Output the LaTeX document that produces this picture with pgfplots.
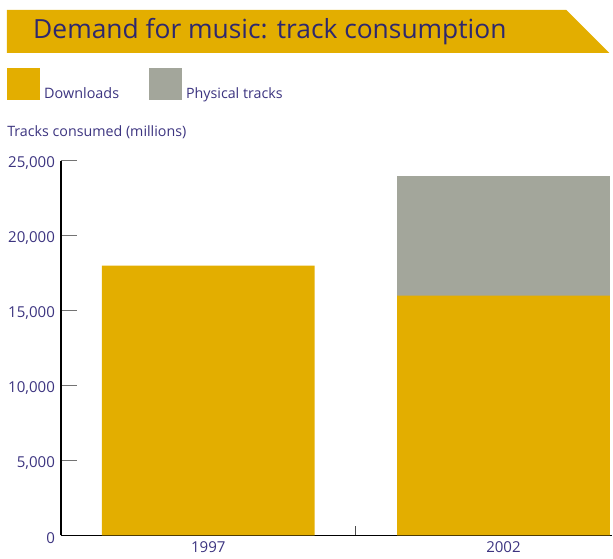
\documentclass[border=0pt]{standalone}
\usepackage{pgfplots}
\pgfplotsset{compat=1.18}
\usepackage{fontspec}
\setmainfont{Open Sans}
\definecolor{gold}{RGB}{227,174,0}
\definecolor{stone}{RGB}{163,166,155}
\definecolor{navy}{RGB}{46,40,110}
\definecolor{lab}{RGB}{60,52,128}
\begin{document}
\begin{tikzpicture}
\begin{scope}[x=0.75pt,y=-0.75pt,yshift=419.25pt]
\path[use as bounding box] (0,0) rectangle (613,559);
% title banner
\fill[gold] (7,10) -- (567,10) -- (610,53) -- (7,53) -- cycle;
\node[anchor=base west,inner sep=0pt,text=navy,font=\fontsize{19.8}{23}\selectfont] at (33,39) {Demand for music: track consumption};
% legend
\fill[gold] (7,68) rectangle (40,100);
\node[anchor=base west,inner sep=0pt,text=lab,font=\fontsize{10.8}{13}\selectfont] at (44,99) {Downloads};
\fill[stone] (149,68) rectangle (182,100);
\node[anchor=base west,inner sep=0pt,text=lab,font=\fontsize{10.7}{13}\selectfont] at (186,99) {Physical tracks};
% y label
\node[anchor=base west,inner sep=0pt,text=lab,font=\fontsize{10.7}{13}\selectfont] at (7,137) {Tracks consumed (millions)};
\end{scope}
\begin{axis}[
  at={(45.75pt,17.25pt)}, anchor=south west,
  scale only axis, width=414pt, height=281.25pt,
  ybar stacked, bar width=0.721,
  xmin=-0.499, xmax=1.369, ymin=0, ymax=25000,
  axis x line=bottom, axis y line=left,
  axis line style={-, black, line width=0.9pt},
  xtick={0,1}, xticklabels={1997,2002},
  major x tick style={draw=none},
  minor xtick={0.5},
  minor x tick style={black!70, line width=0.8pt},
  minor tick length=7pt,
  ytick={0,5000,10000,15000,20000,25000},
  tick align=inside,
  major tick length=12pt,
  y tick style={black!55, line width=0.9pt},
  scaled y ticks=false,
  /pgf/number format/.cd, 1000 sep={,}, assume math mode=true,
  /pgfplots/.cd,
  tick label style={text=lab, font=\fontsize{11.3}{13}\selectfont},
  yticklabel style={xshift=-1pt, yshift=-2pt},
  xticklabel style={yshift=-1pt},
  clip=false,
]
\addplot[fill=gold, draw=none] coordinates {(0,18000) (1,16000)};
\addplot[fill=stone, draw=none] coordinates {(0,0) (1,8000)};
\end{axis}
\end{tikzpicture}
\end{document}
